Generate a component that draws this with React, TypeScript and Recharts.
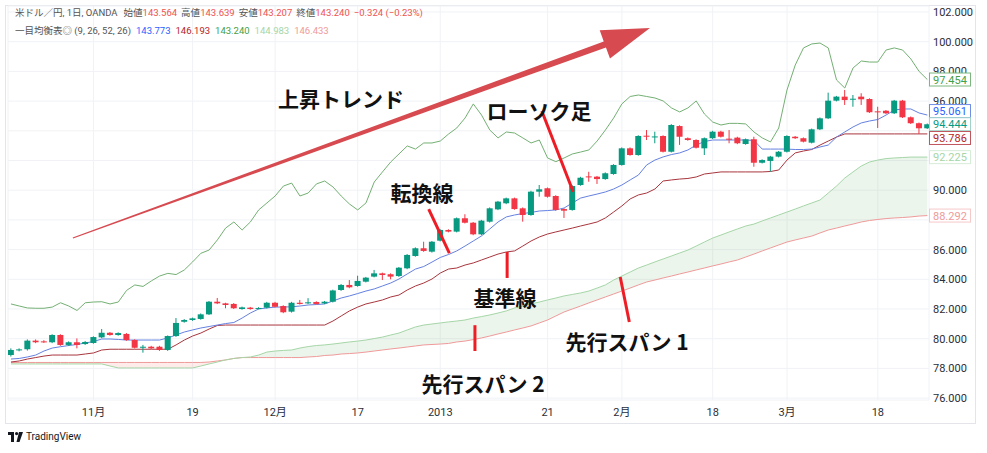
import React from "react";
import { ComposedChart, Bar, Line, Area, XAxis, YAxis, CartesianGrid, ReferenceLine } from "recharts";

// USD/JPY daily candles, Oct 2012 - Mar 2013
const opens = [
  78.9, 79.22, 79.29, 79.87, 79.82, 79.76, 80.25, 79.58, 79.76, 79.64, 79.71, 80.09, 80.4, 80.25, 80.32, 79.91,
  79.39, 79.46, 79.46, 79.24, 80.18, 81.14, 81.26, 81.33, 81.64, 82.49, 82.38, 82.34, 82.0, 82.09, 82.03, 82.09,
  82.42, 82.2, 81.82, 82.42, 82.38, 82.47, 82.38, 82.49, 83.28, 83.62, 83.55, 83.84, 84.18, 84.4, 84.34, 84.22,
  84.74, 85.57, 86.09, 85.86, 86.6, 87.32, 87.21, 88.11, 87.81, 87.03, 87.88, 88.71, 89.12, 89.45, 88.78, 88.33,
  89.9, 90.13, 89.61, 88.73, 88.67, 90.35, 90.93, 90.91, 90.75, 91.09, 91.7, 92.82, 92.37, 93.67, 93.58, 93.65,
  92.59, 94.32, 93.5, 93.38, 92.82, 93.5, 93.94, 93.47, 93.54, 93.11, 93.43, 91.85, 91.97, 92.26, 92.59, 93.6,
  93.5, 93.2, 94.1, 94.84, 96.03, 96.3, 96.12, 96.3, 96.14, 95.31, 95.35, 95.18, 96.03, 94.91, 94.51, 94.17,
];
const highs = [
  79.35, 79.35, 79.95, 79.95, 79.9, 80.3, 80.3, 79.82, 80.02, 79.84, 80.16, 80.65, 80.45, 80.43, 80.38, 79.96,
  79.58, 79.52, 79.52, 80.22, 81.39, 81.32, 81.42, 81.7, 82.54, 82.74, 82.42, 82.4, 82.16, 82.14, 82.12, 82.48,
  82.48, 82.25, 82.48, 82.61, 82.73, 82.52, 82.54, 83.3, 83.68, 83.95, 84.24, 84.16, 84.63, 84.45, 84.4, 84.83,
  85.7, 86.15, 86.53, 86.58, 87.38, 87.37, 88.16, 88.38, 87.86, 88.0, 88.84, 89.28, 89.5, 89.5, 88.84, 89.96,
  90.35, 90.18, 89.66, 88.78, 90.33, 90.9, 91.24, 90.96, 91.2, 91.75, 92.88, 92.88, 93.7, 94.05, 93.94, 93.7,
  94.45, 94.37, 93.55, 93.43, 93.55, 94.0, 94.0, 94.05, 93.6, 93.48, 93.6, 92.08, 92.31, 92.64, 93.7, 93.65,
  93.55, 94.15, 94.9, 96.57, 96.35, 96.75, 96.41, 96.53, 96.19, 95.62, 95.4, 96.08, 96.08, 94.96, 94.56, 94.49,
];
const lows = [
  78.8, 79.15, 79.2, 79.7, 79.72, 79.7, 79.52, 79.52, 79.35, 79.58, 79.66, 80.04, 80.2, 80.2, 79.86, 79.34,
  79.06, 79.3, 79.18, 79.18, 80.12, 81.08, 81.2, 81.28, 81.6, 82.33, 82.05, 82.0, 81.95, 81.95, 81.98, 82.04,
  82.1, 81.72, 81.76, 82.3, 82.33, 82.3, 82.33, 82.44, 83.22, 83.4, 83.5, 83.79, 84.13, 83.95, 84.0, 84.16,
  84.68, 85.52, 85.85, 85.8, 86.55, 87.16, 87.16, 87.76, 86.97, 86.97, 87.82, 88.66, 89.06, 88.68, 87.88, 88.28,
  89.56, 89.5, 88.62, 88.13, 88.62, 90.3, 90.57, 90.42, 90.7, 91.04, 91.65, 92.32, 92.32, 93.38, 93.16, 92.54,
  92.54, 93.05, 93.33, 92.81, 92.37, 93.45, 93.55, 93.16, 93.1, 93.06, 91.58, 91.8, 91.25, 92.21, 92.54, 93.45,
  93.22, 93.15, 94.05, 94.79, 95.98, 95.74, 95.62, 95.74, 95.2, 94.19, 95.13, 95.13, 94.86, 94.46, 93.79, 94.12,
];
const closes = [
  79.24, 79.28, 79.87, 79.76, 79.77, 80.25, 79.58, 79.76, 79.58, 79.78, 80.11, 80.4, 80.25, 80.38, 79.91, 79.39,
  79.46, 79.35, 79.24, 80.18, 81.06, 81.26, 81.37, 81.64, 82.49, 82.38, 82.27, 82.05, 82.11, 82.0, 82.07, 82.42,
  82.15, 81.78, 82.42, 82.34, 82.45, 82.34, 82.49, 83.25, 83.62, 83.46, 83.89, 84.11, 84.4, 84.29, 84.18, 84.78,
  85.64, 86.09, 85.91, 86.53, 87.32, 87.21, 88.11, 87.81, 87.03, 87.95, 88.78, 89.23, 89.45, 88.73, 88.33, 89.9,
  90.06, 89.56, 88.67, 88.62, 90.28, 90.84, 90.89, 90.75, 91.14, 91.7, 92.82, 92.37, 93.65, 93.63, 93.62, 92.59,
  94.39, 93.6, 93.38, 92.86, 93.5, 93.94, 93.6, 93.43, 93.16, 93.43, 91.85, 92.03, 92.26, 92.59, 93.65, 93.5,
  93.27, 94.1, 94.84, 96.03, 96.3, 96.07, 96.16, 96.12, 95.25, 95.27, 95.18, 96.03, 94.91, 94.51, 94.17, 94.44,
];

// Ichimoku lines
const tenkan = [
  78.63, 78.67, 78.77, 78.9, 79.17, 79.37, 79.46, 79.54, 79.61, 79.71, 79.81, 79.98, 79.98, 79.95, 79.91, 79.91,
  79.91, 79.91, 79.91, 80.05, 80.25, 80.45, 80.59, 80.72, 80.82, 80.92, 81.02, 81.09, 81.39, 81.73, 82.0, 82.07,
  82.13, 82.13, 82.15, 82.2, 82.27, 82.3, 82.34, 82.54, 82.74, 82.88, 83.04, 83.21, 83.35, 83.55, 83.75, 84.02,
  84.36, 84.69, 84.86, 85.16, 85.47, 85.67, 85.91, 86.24, 86.58, 86.92, 87.39, 87.86, 88.2, 88.33, 88.43, 88.5,
  88.6, 88.63, 88.67, 88.8, 89.14, 89.47, 89.61, 89.74, 89.88, 90.08, 90.35, 90.69, 91.02, 91.7, 92.03, 92.24,
  92.4, 92.51, 92.71, 93.04, 93.28, 93.38, 93.38, 93.38, 93.38, 93.38, 93.35, 92.77, 92.77, 92.77, 92.77, 92.74,
  92.74, 92.77, 92.91, 93.04, 93.58, 93.92, 94.26, 94.53, 94.66, 94.76, 95.06, 95.4, 95.47, 95.47, 95.2, 95.06,
];
const kijun = [
  78.43, 78.5, 78.63, 78.73, 78.83, 78.9, 78.9, 78.9, 78.9, 78.97, 79.04, 79.24, 79.29, 79.29, 79.29, 79.29,
  79.29, 79.29, 79.29, 79.29, 79.58, 79.91, 80.18, 80.38, 80.65, 80.89, 80.92, 80.92, 80.92, 80.92, 80.92, 80.92,
  80.92, 80.92, 80.92, 80.92, 80.92, 80.92, 80.92, 81.19, 81.53, 81.87, 82.13, 82.34, 82.47, 82.61, 82.81, 82.94,
  83.28, 83.55, 83.75, 84.02, 84.42, 84.69, 84.76, 84.96, 85.1, 85.3, 85.5, 85.7, 85.84, 85.91, 86.24, 86.58,
  86.85, 87.05, 87.19, 87.32, 87.45, 87.59, 87.72, 87.86, 88.13, 88.53, 88.94, 89.41, 89.68, 89.81, 90.08, 90.62,
  90.69, 90.75, 90.79, 90.89, 91.09, 91.16, 91.23, 91.23, 91.23, 91.23, 91.23, 91.23, 91.26, 91.36, 92.03, 92.51,
  92.64, 92.74, 93.04, 93.31, 93.58, 93.79, 93.79, 93.79, 93.79, 93.79, 93.79, 93.79, 93.79, 93.79, 93.79, 93.79,
];
const chikou = [
  82.34, 82.2, 82.07, 82.05, 82.05, 82.13, 82.42, 82.2, 81.9, 82.42, 82.47, 82.49, 82.34, 82.47, 83.25, 83.62,
  83.52, 83.89, 84.22, 84.4, 84.32, 84.63, 85.17, 85.75, 85.97, 86.65, 87.45, 87.86, 87.32, 87.86, 88.67, 89.14,
  89.61, 90.28, 90.48, 89.61, 89.81, 90.42, 90.62, 90.22, 89.61, 89.07, 88.67, 89.14, 90.55, 91.23, 91.9, 92.44,
  92.98, 92.77, 93.18, 93.18, 93.31, 93.78, 94.19, 94.86, 95.81, 95.06, 94.05, 93.52, 93.92, 93.85, 93.52, 93.18,
  93.38, 92.17, 91.92, 92.17, 92.44, 92.57, 92.71, 93.31, 94.05, 94.86, 95.81, 96.31, 96.41, 96.31, 96.21, 96.01,
  95.54, 95.27, 95.54, 96.01, 95.13, 94.59, 94.39, 94.5, 94.5, 94.46, 93.92, 93.52, 93.25, 94.19, 96.75, 98.43,
  99.58, 99.85, 99.91, 99.58, 97.42, 96.88, 98.23, 98.7, 98.63, 98.63, 99.44, 99.58, 99.44, 98.84, 98.0, 97.45,
];
const spanA = [
  78.3, 78.3, 78.3, 78.3, 78.3, 78.3, 78.3, 78.3, 78.3, 78.3, 78.3, 78.3, 78.16, 78.03, 78.03, 78.03,
  78.03, 78.03, 78.03, 78.03, 78.03, 78.03, 78.03, 78.16, 78.3, 78.43, 78.57, 78.67, 78.73, 78.77, 78.9, 79.1,
  79.17, 79.21, 79.24, 79.37, 79.47, 79.54, 79.58, 79.64, 79.71, 79.78, 79.84, 79.91, 80.01, 80.11, 80.25, 80.38,
  80.59, 80.79, 80.92, 80.99, 81.06, 81.13, 81.19, 81.26, 81.39, 81.49, 81.6, 81.73, 81.87, 82.07, 82.2, 82.34,
  82.47, 82.61, 82.74, 82.88, 82.98, 83.08, 83.21, 83.41, 83.62, 83.95, 84.22, 84.49, 84.76, 84.96, 85.17, 85.37,
  85.57, 85.77, 85.97, 86.24, 86.51, 86.78, 86.98, 87.19, 87.39, 87.59, 87.72, 87.93, 88.13, 88.33, 88.53, 88.73,
  88.94, 89.14, 89.34, 89.81, 90.28, 90.82, 91.23, 91.63, 91.9, 92.03, 92.13, 92.17, 92.2, 92.23, 92.23, 92.23,
];
const spanB = [
  78.4, 78.4, 78.4, 78.4, 78.4, 78.4, 78.4, 78.4, 78.4, 78.4, 78.4, 78.4, 78.4, 78.4, 78.4, 78.4,
  78.4, 78.4, 78.4, 78.4, 78.4, 78.4, 78.4, 78.4, 78.43, 78.5, 78.57, 78.67, 78.73, 78.73, 78.73, 78.73,
  78.73, 78.73, 78.73, 78.73, 78.77, 78.8, 78.87, 78.9, 78.97, 79.0, 79.04, 79.1, 79.17, 79.24, 79.31, 79.37,
  79.44, 79.51, 79.58, 79.61, 79.64, 79.68, 79.78, 79.84, 79.94, 80.05, 80.18, 80.32, 80.45, 80.59, 80.72, 80.86,
  81.06, 81.26, 81.53, 81.8, 82.0, 82.2, 82.41, 82.61, 82.81, 83.01, 83.21, 83.41, 83.62, 83.82, 83.95, 84.09,
  84.22, 84.36, 84.49, 84.63, 84.76, 84.9, 85.03, 85.17, 85.3, 85.5, 85.7, 85.91, 86.11, 86.31, 86.51, 86.65,
  86.78, 86.91, 87.12, 87.32, 87.45, 87.59, 87.72, 87.86, 87.96, 88.03, 88.09, 88.13, 88.16, 88.2, 88.26, 88.29,
];

const xTicks = [10, 22, 32, 42, 52, 65, 74, 85, 94, 105];
const xTickLabels = ["11月", "19", "12月", "17", "2013", "21", "2月", "18", "3月", "18"];
const yTicks = [76, 78, 80, 82, 84, 86, 88, 90, 92, 94, 96, 98, 100, 102];
// tick labels hidden behind the last-value tags
const hiddenTicks = [88, 92, 94];

const UP = "#089981";
const DOWN = "#f23645";

const data = closes.map((c, i) => ({
  i,
  range: [lows[i], highs[i]],
  open: opens[i],
  high: highs[i],
  low: lows[i],
  close: c,
  tenkan: tenkan[i],
  kijun: kijun[i],
  chikou: chikou[i],
  spanA: spanA[i],
  spanB: spanB[i],
  cloudUp: spanA[i] >= spanB[i] ? [spanB[i], spanA[i]] : [spanA[i], spanA[i]],
  cloudDown: spanB[i] > spanA[i] ? [spanA[i], spanB[i]] : [spanB[i], spanB[i]],
}));

const Candle = (props: any) => {
  const { x, y, width, height, payload } = props;
  if (!payload) return null;
  const { open, close, high, low } = payload;
  const top = Math.min(y, y + height);
  const h = Math.abs(height);
  const ppu = h / (high - low);
  const color = close >= open ? UP : DOWN;
  const cx = x + width / 2;
  const bodyTop = top + (high - Math.max(open, close)) * ppu;
  const bodyH = Math.max(1, Math.abs(close - open) * ppu);
  return (
    <g>
      <line x1={cx} x2={cx} y1={top} y2={top + h} stroke={color} strokeWidth={1} />
      <rect x={x} y={bodyTop} width={width} height={bodyH} fill={color} />
    </g>
  );
};

const PriceTick = (p: any) => {
  const v = Number(p.payload.value);
  if (hiddenTicks.includes(v)) return <g />;
  return (
    <text x={p.x} y={p.y} dy={4} fontSize={11} fill="#2a2e39" fontFamily="Roboto, sans-serif">
      {v.toFixed(3)}
    </text>
  );
};

const priceTag = (text: string, color: string, border: string, shift: number) => (p: any) => {
  const vb = p.viewBox || {};
  const x = vb.x + vb.width;
  const cy = vb.y + shift;
  return (
    <g>
      <rect x={x + 0.5} y={cy - 6.5} width={41} height={13} fill="#fff" stroke={border} strokeWidth={1} />
      <text x={x + 4} y={cy + 4} fontSize={11} fill={color} fontFamily="Roboto, sans-serif">
        {text}
      </text>
    </g>
  );
};

const Arrow = (p: any) => {
  const { x1, y1, x2, y2 } = p;
  const dx = x2 - x1;
  const dy = y2 - y1;
  const L = Math.hypot(dx, dy) || 1;
  const ux = dx / L, uy = dy / L, nx = -uy, ny = ux;
  const headL = 48, headW = 15, neckW = 3.2, tailW = 0.6;
  const bx = x2 - ux * headL, by = y2 - uy * headL;
  const pts = [
    [x1 + nx * tailW, y1 + ny * tailW],
    [bx + nx * neckW, by + ny * neckW],
    [bx + nx * headW, by + ny * headW],
    [x2, y2],
    [bx - nx * headW, by - ny * headW],
    [bx - nx * neckW, by - ny * neckW],
    [x1 - nx * tailW, y1 - ny * tailW],
  ];
  return <polygon points={pts.map((q) => q.join(",")).join(" ")} fill="#d64a50" />;
};

const Pointer = (p: any) => (
  <line x1={p.x1} y1={p.y1} x2={p.x2} y2={p.y2} stroke="#ee1c25" strokeWidth={3} />
);

const pointers = [
  [{ x: 64.3, y: 95.33 }, { x: 68.1, y: 89.9 }],
  [{ x: 50.6, y: 88.73 }, { x: 53.1, y: 85.77 }],
  [{ x: 60.1, y: 85.84 }, { x: 60.1, y: 84.09 }],
  [{ x: 73.8, y: 84.15 }, { x: 74.9, y: 81.12 }],
  [{ x: 56.2, y: 80.91 }, { x: 56.2, y: 79.17 }],
];

const notes = [
  { text: "上昇トレンド", x: 341, y: 98 },
  { text: "ローソク足", x: 539, y: 110 },
  { text: "転換線", x: 422, y: 192 },
  { text: "基準線", x: 505, y: 297 },
  { text: "先行スパン 1", x: 627, y: 341 },
  { text: "先行スパン 2", x: 483, y: 383 },
];

const GREY = "#555";
const RED = "#ef5350";
const header1 = [
  { t: "米ドル／円, 1日, OANDA", c: GREY, gap: 0 },
  { t: "始値", c: GREY, gap: 6 },
  { t: "143.564", c: RED, gap: 0 },
  { t: "高値", c: GREY, gap: 4 },
  { t: "143.639", c: RED, gap: 0 },
  { t: "安値", c: GREY, gap: 4 },
  { t: "143.207", c: RED, gap: 0 },
  { t: "終値", c: GREY, gap: 4 },
  { t: "143.240", c: RED, gap: 0 },
  { t: "−0.324 (−0.23%)", c: RED, gap: 4 },
];
const header2 = [
  { t: "一目均衡表◎ (9, 26, 52, 26)", c: GREY, gap: 0 },
  { t: "143.773", c: "#2962ff", gap: 5 },
  { t: "146.193", c: "#b71c1c", gap: 5 },
  { t: "143.240", c: "#43a047", gap: 5 },
  { t: "144.983", c: "#a5d6a7", gap: 5 },
  { t: "146.433", c: "#ef9a9a", gap: 5 },
];

export default function App() {
  return (
    <div style={{ position: "relative", width: 987, height: 453, background: "#fff", overflow: "hidden" }}>
      <style>{"body{margin:0}"}</style>
      <div
        style={{
          position: "absolute",
          left: 5,
          top: 5,
          width: 971,
          height: 419,
          border: "1px solid #e3e5ea",
          boxSizing: "border-box",
        }}
      />
      <div style={{ position: "absolute", left: 0, top: 0 }}>
        <ComposedChart
          width={976}
          height={425}
          data={data}
          margin={{ top: 6, right: 0, left: 8, bottom: 0 }}
        >
          <CartesianGrid stroke="#f0f2f6" />
          <XAxis
            dataKey="i"
            type="number"
            domain={[-0.36, 111.2]}
            allowDataOverflow
            ticks={xTicks}
            tickFormatter={(v: number) => xTickLabels[xTicks.indexOf(v)] ?? ""}
            axisLine={false}
            tickLine={false}
            height={25}
            tick={{ fontSize: 11, fill: "#2a2e39", fontFamily: "Roboto, 'Noto Sans CJK JP', sans-serif" }}
          />
          <YAxis
            orientation="right"
            domain={[75.872, 102.404]}
            allowDataOverflow
            ticks={yTicks}
            width={47}
            axisLine={false}
            tickLine={false}
            tickSize={0}
            tickMargin={4}
            tick={<PriceTick />}
          />
          <Area dataKey="cloudUp" type="linear" stroke="none" fill="#43a047" fillOpacity={0.1} isAnimationActive={false} />
          <Area dataKey="cloudDown" type="linear" stroke="none" fill="#f44336" fillOpacity={0.1} isAnimationActive={false} />
          <Line dataKey="spanB" type="linear" stroke="#ef9a9a" strokeWidth={1} dot={false} isAnimationActive={false} />
          <Line dataKey="spanA" type="linear" stroke="#a5d6a7" strokeWidth={1} dot={false} isAnimationActive={false} />
          <Line dataKey="chikou" type="linear" stroke="#74b074" strokeWidth={1} dot={false} isAnimationActive={false} />
          <Line dataKey="kijun" type="linear" stroke="#a8353d" strokeWidth={1} dot={false} isAnimationActive={false} />
          <Line dataKey="tenkan" type="linear" stroke="#6581e0" strokeWidth={1} dot={false} isAnimationActive={false} />
          <Bar dataKey="range" barSize={6} shape={(p: any) => <Candle {...p} />} isAnimationActive={false} zIndex={450} />
          <ReferenceLine y={97.454} strokeOpacity={0} label={priceTag("97.454", "#43a047", "#7cb87e", 0)} zIndex={2100} />
          <ReferenceLine y={95.061} strokeOpacity={0} label={priceTag("95.061", "#2962ff", "#6f8ee8", -4)} zIndex={2100} />
          <ReferenceLine y={94.444} strokeOpacity={0} label={priceTag("94.444", "#089981", "#9fd3c8", 0)} zIndex={2100} />
          <ReferenceLine y={93.786} strokeOpacity={0} label={priceTag("93.786", "#b71c1c", "#c0555c", 4)} zIndex={2100} />
          <ReferenceLine y={92.225} strokeOpacity={0} label={priceTag("92.225", "#a5d6a7", "#d5ecd6", 0)} zIndex={2100} />
          <ReferenceLine y={88.292} strokeOpacity={0} label={priceTag("88.292", "#ef9a9a", "#f6c9c9", 0)} zIndex={2100} />
          {pointers.map((seg, k) => (
            <ReferenceLine key={k} segment={seg} ifOverflow="visible" shape={Pointer} zIndex={2000} />
          ))}
          <ReferenceLine
            segment={[{ x: 7.5, y: 86.78 }, { x: 77.4, y: 100.92 }]}
            ifOverflow="visible"
            shape={Arrow}
            zIndex={2000}
          />
        </ComposedChart>
      </div>
      {[header1, header2].map((row, r) => (
        <div
          key={r}
          style={{
            position: "absolute",
            left: 15,
            top: r === 0 ? 7 : 25,
            fontSize: 9.5,
            lineHeight: "12px",
            whiteSpace: "nowrap",
            fontFamily: "Roboto, 'Noto Sans CJK JP', sans-serif",
          }}
        >
          {row.map((s, k) => (
            <span key={k} style={{ color: s.c, marginLeft: s.gap }}>
              {s.t}
            </span>
          ))}
        </div>
      ))}
      {notes.map((n) => (
        <div
          key={n.text}
          style={{
            position: "absolute",
            left: n.x,
            top: n.y,
            transform: "translate(-50%, -50%)",
            fontSize: 21,
            fontWeight: 700,
            lineHeight: 1,
            color: "#111",
            whiteSpace: "nowrap",
            fontFamily: "'Noto Sans CJK JP', sans-serif",
          }}
        >
          {n.text}
        </div>
      ))}
      <div style={{ position: "absolute", left: 8, top: 431, display: "flex", alignItems: "center", gap: 3 }}>
        <svg width={15} height={10} viewBox="0 0 15 10">
          <path d="M0 0 H6 V10 H3 V3 H0 Z" fill="#131722" />
          <circle cx={8.6} cy={1.6} r={1.6} fill="#131722" />
          <path d="M11 0 H15 L11.5 10 H8.5 Z" fill="#131722" />
        </svg>
        <span style={{ fontSize: 10, color: "#131722", fontFamily: "Roboto, sans-serif" }}>TradingView</span>
      </div>
    </div>
  );
}
